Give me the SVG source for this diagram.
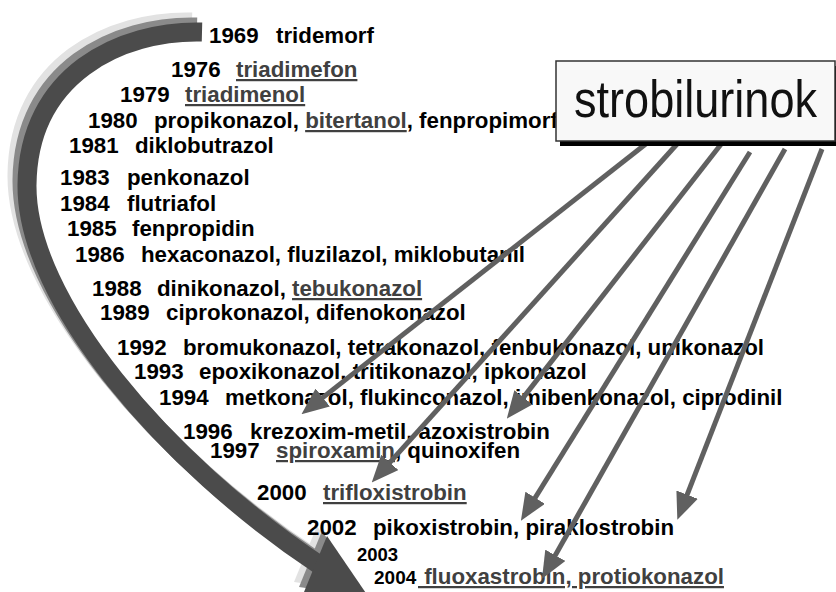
<svg xmlns="http://www.w3.org/2000/svg" xmlns:xlink="http://www.w3.org/1999/xlink" width="836" height="592" viewBox="0 0 836 592">
<style>
.t { font-family: "Liberation Sans", Arial, sans-serif; font-weight: bold; font-size: 22.3px; fill: #000; }
.u { fill: #404040; text-decoration: underline; }
.conn { stroke: #606060; stroke-width: 5; fill: none; marker-end: url(#head); }
.box { fill: #f8f8f8; stroke: #333; stroke-width: 1.5; }
.boxtext { font-family: "Liberation Sans", Arial, sans-serif; font-size: 52px; fill: #111; }
</style>
<defs>
  <marker id="head" markerUnits="userSpaceOnUse" markerWidth="27" markerHeight="23" refX="13" refY="11.5" orient="auto">
    <path d="M0,0 L27,11.5 L0,23 z" fill="#606060"/>
  </marker>
  <g id="bigArrow">
    <path d="M202,32 C120,30 28,75 27,185 C26,300 165,463 321,566" fill="none" stroke="currentColor" stroke-width="19"/>
    <polygon points="327,536 372,602 304,592" fill="currentColor"/>
  </g>
</defs>
<rect width="836" height="592" fill="#fff"/>

<g id="timeline-arrow">
  <use xlink:href="#bigArrow" transform="translate(-10,-10)" color="#e2e2e2"/>
  <use xlink:href="#bigArrow" transform="translate(-5,-5)" color="#8a8a8a"/>
  <use xlink:href="#bigArrow" color="#4b4b4b"/>
</g>

<g id="years">
  <g id="y1969"><text class="t" x="209" y="43">1969<tspan x="276">tridemorf</tspan></text></g>
  <g id="y1976"><text class="t" x="171" y="77">1976<tspan x="236" class="u">triadimefon</tspan></text></g>
  <g id="y1979"><text class="t" x="120" y="102">1979<tspan x="185" class="u">triadimenol</tspan></text></g>
  <g id="y1980"><text class="t" x="88" y="128">1980<tspan x="154">propikonazol, </tspan><tspan class="u">bitertanol</tspan><tspan>, fenpropimorf</tspan></text></g>
  <g id="y1981"><text class="t" x="69" y="153">1981<tspan x="135">diklobutrazol</tspan></text></g>
  <g id="y1983"><text class="t" x="60" y="185">1983<tspan x="127">penkonazol</tspan></text></g>
  <g id="y1984"><text class="t" x="60" y="211">1984<tspan x="127">flutriafol</tspan></text></g>
  <g id="y1985"><text class="t" x="67" y="236">1985<tspan x="132">fenpropidin</tspan></text></g>
  <g id="y1986"><text class="t" x="75" y="262">1986<tspan x="141">hexaconazol, fluzilazol, miklobutanil</tspan></text></g>
  <g id="y1988"><text class="t" x="92" y="296">1988<tspan x="157">dinikonazol, </tspan><tspan class="u">tebukonazol</tspan></text></g>
  <g id="y1989"><text class="t" x="100" y="320">1989<tspan x="166">ciprokonazol, difenokonazol</tspan></text></g>
  <g id="y1992"><text class="t" x="117" y="355">1992<tspan x="183">bromukonazol, tetrakonazol, fenbukonazol, unikonazol</tspan></text></g>
  <g id="y1993"><text class="t" x="134" y="379">1993<tspan x="199">epoxikonazol, tritikonazol, ipkonazol</tspan></text></g>
  <g id="y1994"><text class="t" x="159" y="405">1994<tspan x="225">metkonazol, flukinconazol, imibenkonazol, ciprodinil</tspan></text></g>
  <g id="y1996"><text class="t" x="183" y="439">1996<tspan x="250">krezoxim-metil, azoxistrobin</tspan></text></g>
  <g id="y1997"><text class="t" x="210" y="458">1997<tspan x="276" class="u">spiroxamin</tspan><tspan>, quinoxifen</tspan></text></g>
  <g id="y2000"><text class="t" x="257" y="500">2000<tspan x="323" class="u">trifloxistrobin</tspan></text></g>
  <g id="y2002"><text class="t" x="307" y="535">2002<tspan x="373">pikoxistrobin, piraklostrobin</tspan></text></g>
  <g id="y2003"><text class="t" x="357" y="561" style="font-size:18.5px">2003</text></g>
  <g id="y2004"><text class="t" x="374" y="584"><tspan style="font-size:19px">2004</tspan><tspan x="418" class="u" xml:space="preserve"> fluoxastrobin, protiokonazol</tspan></text></g>
</g>

<g id="connectors">
  <line class="conn" x1="647" y1="143" x2="312.5" y2="405.6"/>
  <line class="conn" x1="678" y1="143" x2="381.1" y2="472.1"/>
  <line class="conn" x1="722" y1="143" x2="515.4" y2="407.6"/>
  <line class="conn" x1="750" y1="152" x2="528.3" y2="508.8"/>
  <line class="conn" x1="785" y1="149" x2="548.9" y2="566.6"/>
  <line class="conn" x1="822" y1="149" x2="682.4" y2="506.8"/>
</g>

<g id="strobilurinok">
  <rect x="560" y="66" width="280" height="80" fill="#000"/>
  <rect class="box" x="556" y="61" width="279" height="80"/>
  <text class="boxtext" x="574" y="117" textLength="243" lengthAdjust="spacingAndGlyphs">strobilurinok</text>
</g>
</svg>
